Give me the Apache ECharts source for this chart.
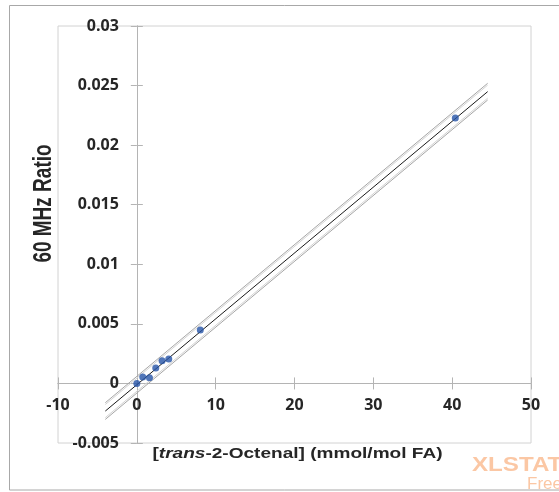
<!DOCTYPE html>
<html>
<head>
<meta charset="utf-8">
<script src="https://cdn.jsdelivr.net/npm/echarts@6/dist/echarts.min.js"></script>
<style>
  html, body { margin: 0; padding: 0; background: #fff; }
  #chart { width: 559px; height: 492px; }
</style>
</head>
<body>
<div id="chart"></div>
<script>
// Calibration standards: concentration vs. 60 MHz signal ratio
const concentration = [0, 0.75, 1.6, 2.4, 3.2, 4.05, 8.05, 40.4];
const ratio = [0, 0.00054, 0.00048, 0.00129, 0.0019, 0.00205, 0.00448, 0.02228];

// Fitted regression line and interval bands (end points)
const fitX = [-4, 44.5];
const fitY = [-0.00232, 0.02449];
const upperOuter = [-0.00162, 0.02519];
const upperInner = [-0.00177, 0.02504];
const lowerInner = [-0.00287, 0.02394];
const lowerOuter = [-0.00302, 0.02379];

// Axis ranges and ticks
const xMin = -10, xMax = 50, xStep = 10;
const yMin = -0.005, yMax = 0.03, yStep = 0.005;

const pairs = (xs, ys) => xs.map((x, i) => [x, ys[i]]);
const tickFont = { fontFamily: 'Open Sans', fontWeight: 'bold', fontSize: 16, color: '#262626' };
const axisGray = '#b4b4b4';

// Plot box
const G = { left: 58, top: 26, width: 473, height: 417 };
// Shift each axis from the box edge to the other axis' zero value
const yAxisShift = -(0 - xMin) / (xMax - xMin) * G.width;
const xAxisShift = -(0 - yMin) / (yMax - yMin) * G.height;

const chart = echarts.init(document.getElementById('chart'), null, { renderer: 'canvas' });

const xBase = {
  type: 'value', min: xMin, max: xMax, interval: xStep, position: 'bottom', offset: xAxisShift,
  splitLine: { show: false },
  axisLine: { onZero: false, lineStyle: { color: axisGray } }
};
const yBase = {
  type: 'value', min: yMin, max: yMax, interval: yStep, position: 'left', offset: yAxisShift,
  splitLine: { show: false },
  axisLine: { onZero: false, lineStyle: { color: axisGray } }
};

const lineSeries = (ys, color, width, z) => ({
  type: 'line', data: pairs(fitX, ys), symbol: 'none', silent: true, z: z,
  lineStyle: { color: color, width: width }
});

chart.setOption({
  animation: false,
  backgroundColor: '#fff',
  grid: Object.assign({
    containLabel: false, outerBoundsMode: 'none',
    show: true, borderColor: '#d2d2d2', borderWidth: 1, backgroundColor: 'transparent'
  }, G),
  xAxis: [
    Object.assign({}, xBase, {
      axisTick: { show: true, inside: false, length: 6, lineStyle: { color: axisGray } },
      axisLabel: Object.assign({ margin: 14, showMinLabel: true, showMaxLabel: true,
        formatter: v => String(+v.toFixed(3)) }, tickFont)
    }),
    Object.assign({}, xBase, {
      axisTick: { show: true, inside: true, length: 6, lineStyle: { color: axisGray } },
      axisLabel: { show: false }
    })
  ],
  yAxis: [
    Object.assign({}, yBase, {
      axisTick: { show: true, inside: false, length: 6, lineStyle: { color: axisGray } },
      axisLabel: Object.assign({ margin: 18, showMinLabel: true, showMaxLabel: true,
        formatter: v => String(+v.toFixed(3)) }, tickFont)
    }),
    Object.assign({}, yBase, {
      axisTick: { show: true, inside: true, length: 6, lineStyle: { color: axisGray } },
      axisLabel: { show: false }
    })
  ],
  series: [
    lineSeries(upperOuter, '#a6a6a6', 1, 2),
    lineSeries(upperInner, '#d4d4d4', 1, 2),
    lineSeries(lowerInner, '#d4d4d4', 1, 2),
    lineSeries(lowerOuter, '#a6a6a6', 1, 2),
    lineSeries(fitY, '#1a1a1a', 1, 3),
    {
      type: 'scatter', data: pairs(concentration, ratio), z: 5,
      symbol: 'circle', symbolSize: 7,
      itemStyle: { color: '#2554a8' }
    }
  ],
  graphic: [
    {
      type: 'rect', silent: true, z: -1,
      shape: { x: 9.5, y: 5.5, width: 600, height: 484.5 },
      style: { fill: null, stroke: '#a8a8a8', lineWidth: 1 }
    },
    {
      type: 'text', x: 43.5, y: 203.5, rotation: Math.PI / 2, scaleY: 1.38,
      style: {
        text: '60 MHz Ratio', fill: '#262626',
        font: 'bold 19px "Liberation Sans", Arial, sans-serif',
        textAlign: 'center', textVerticalAlign: 'middle'
      }
    },
    {
      type: 'text', x: 297.5, y: 454, scaleX: 1.27,
      style: {
        text: '[{i|trans}-2-Octenal] (mmol/mol FA)', fill: '#262626',
        font: 'bold 15px "Liberation Sans", Arial, sans-serif',
        textAlign: 'center', textVerticalAlign: 'middle',
        rich: {
          i: { fontStyle: 'italic', fontWeight: 'bold', fontSize: 15,
               fontFamily: '"Liberation Sans", Arial, sans-serif', fill: '#262626' }
        }
      }
    },
    {
      type: 'text', x: 472, y: 465, scaleX: 1.15,
      style: {
        text: 'XLSTAT', fill: '#fbc7a4',
        font: 'bold 21px "Liberation Sans", Arial, sans-serif',
        textAlign: 'left', textVerticalAlign: 'middle'
      }
    },
    {
      type: 'text', x: 527, y: 484,
      style: {
        text: 'Free', fill: '#fbc7a4',
        font: '17px "Liberation Sans", Arial, sans-serif',
        textAlign: 'left', textVerticalAlign: 'middle'
      }
    }
  ]
});
</script>
</body>
</html>
